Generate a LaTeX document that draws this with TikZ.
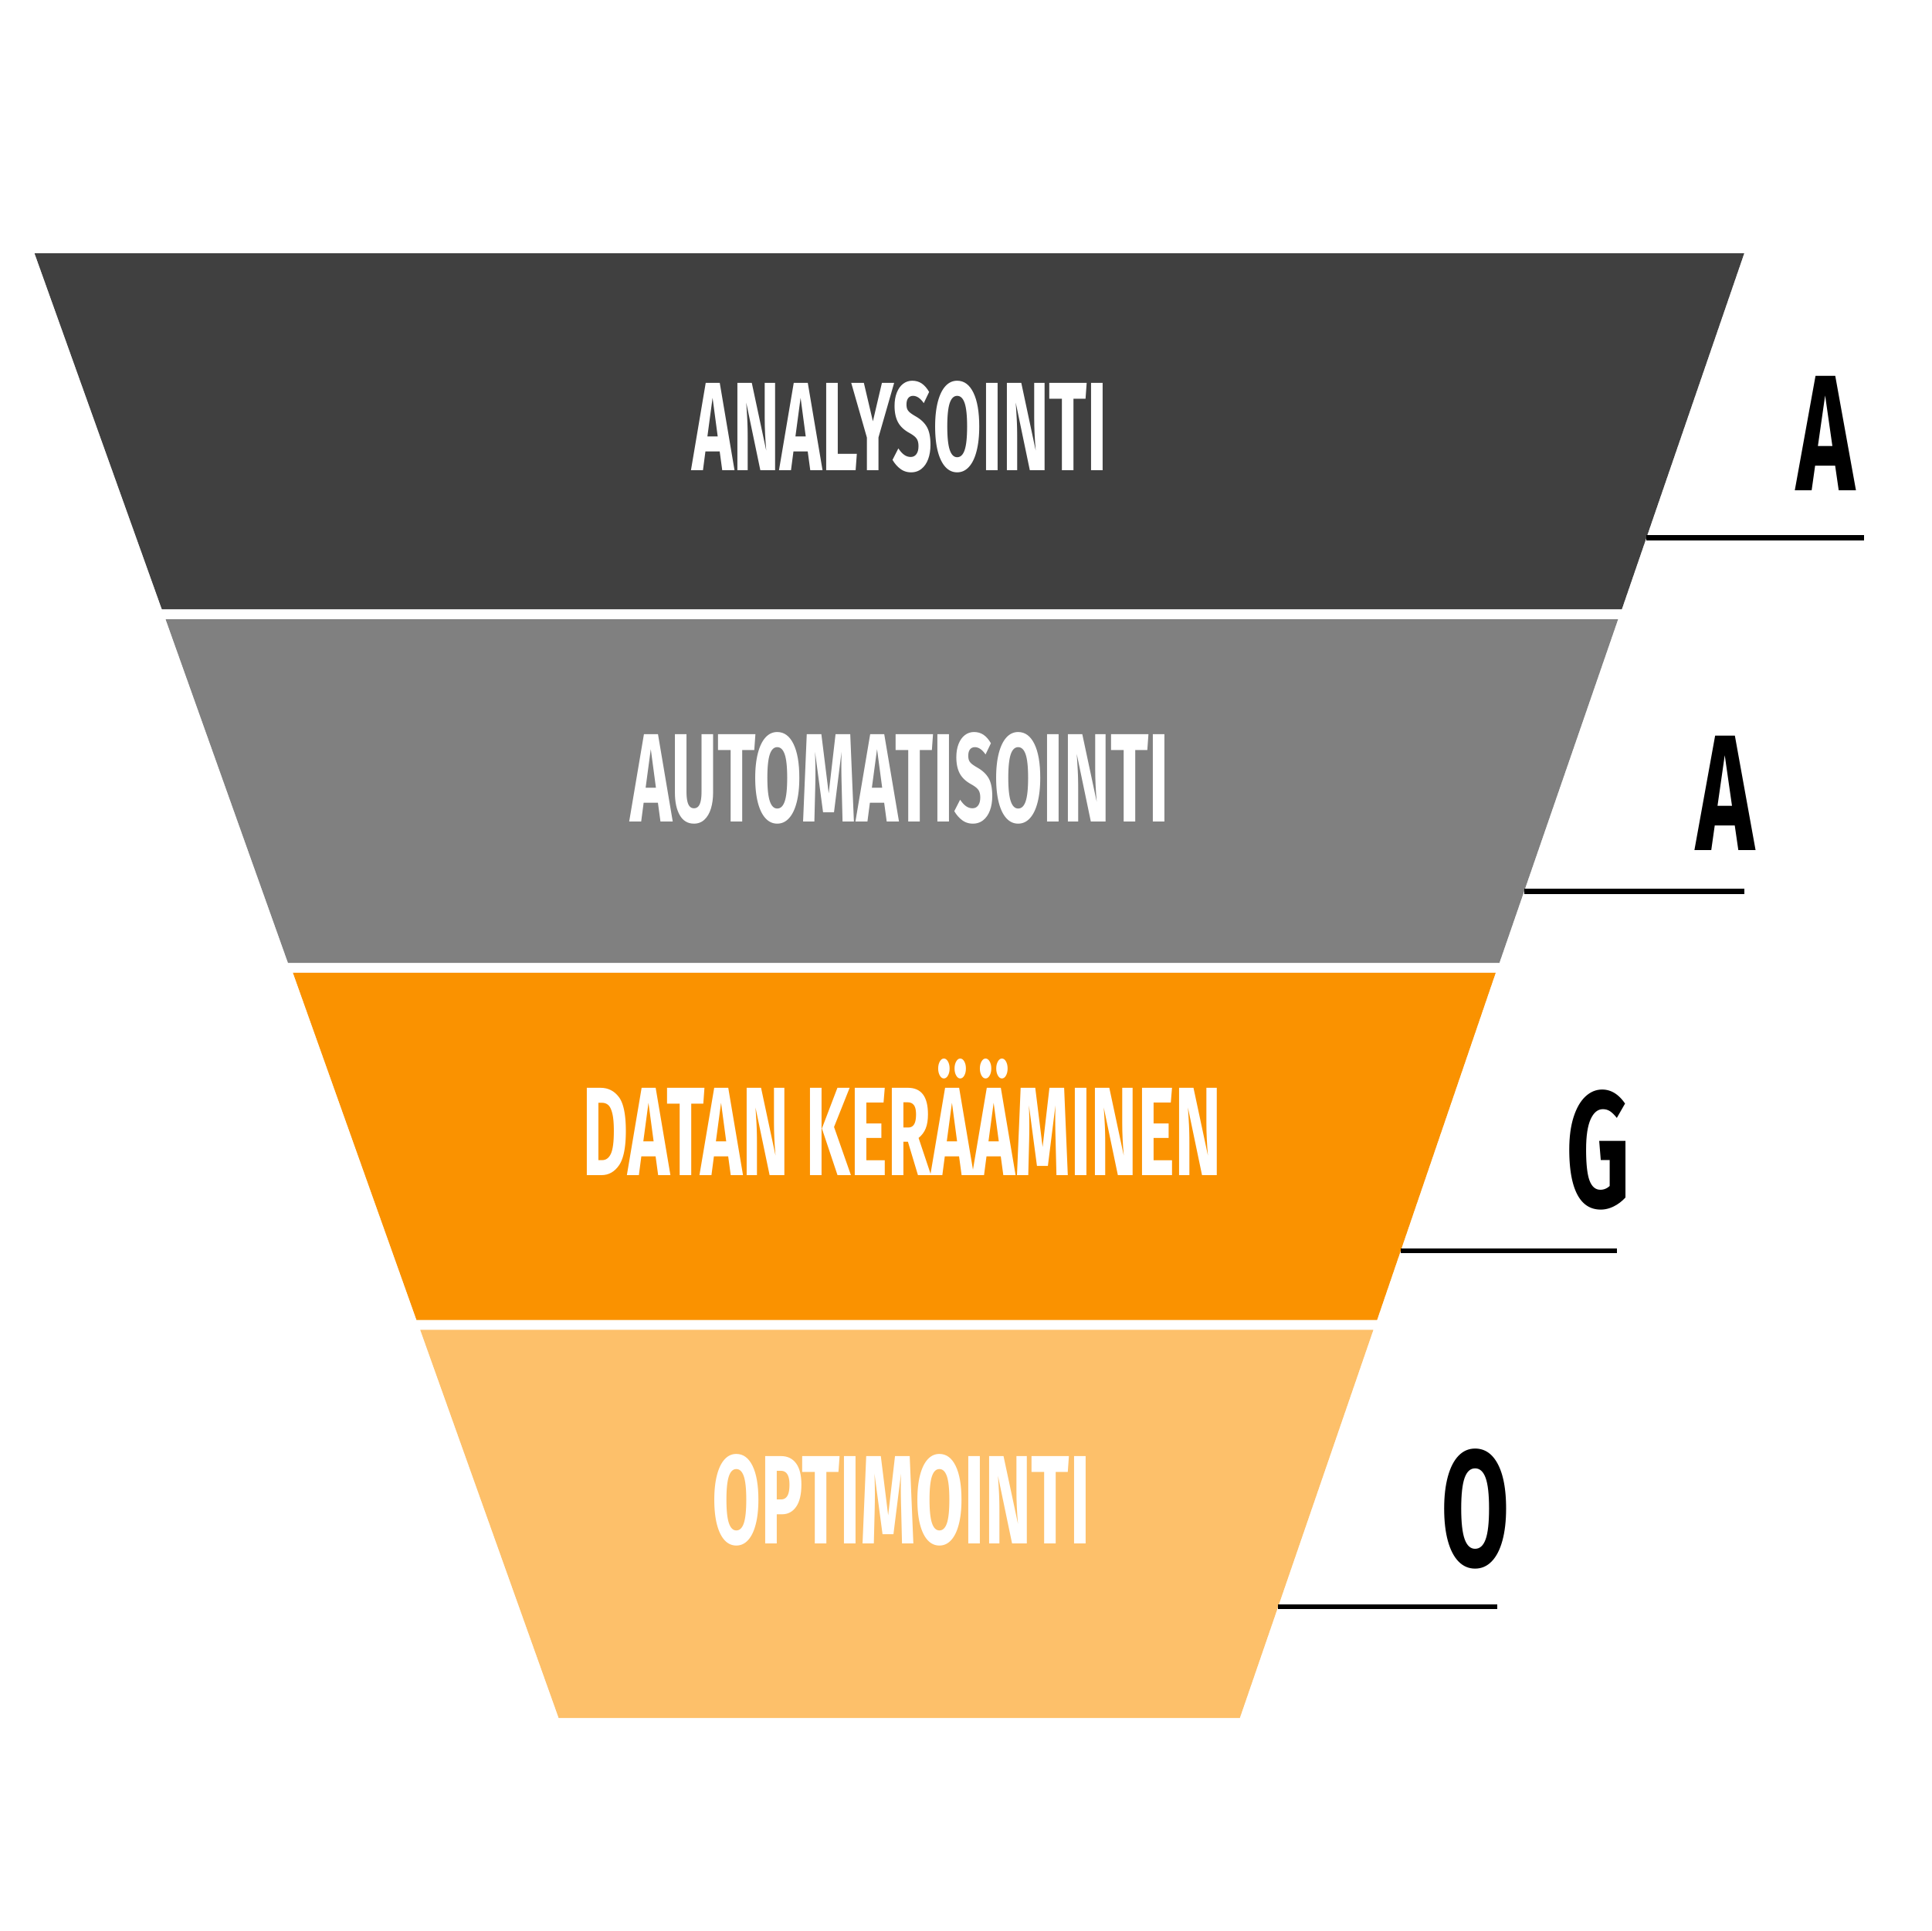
\documentclass[tikz,border=0pt]{standalone}
\usepackage{fontspec}
\setmainfont{Fira Sans}
\definecolor{c1}{HTML}{404040}
\definecolor{c2}{HTML}{808080}
\definecolor{c3}{HTML}{FA9200}
\definecolor{c4}{HTML}{FDC06A}
\begin{document}
\begin{tikzpicture}[x=0.01cm,y=-0.01cm,
  band/.style={text=white,font=\bfseries\fontsize{29}{30}\selectfont,anchor=base,inner sep=0},
  letter/.style={text=black,font=\bfseries\fontsize{38}{40}\selectfont,anchor=base,inner sep=0},
  tick/.style={line width=1.2pt}]
\useasboundingbox[fill=white] (0,0) rectangle (1563,1562);
\fill[c1] (28,205) -- (1411,205) -- (1312,493) -- (131,493) -- cycle;
\fill[c2] (134,501) -- (1309,501) -- (1213,779) -- (233,779) -- cycle;
\fill[c3] (237,787) -- (1210,787) -- (1114,1068) -- (337,1068) -- cycle;
\fill[c4] (340,1076) -- (1111,1076) -- (1003,1390) -- (452,1390) -- cycle;
\node[band] (t1) at (728,381) {\scalebox{0.56}[1]{ANALYSOINTI}};
\node[band] (t2) at (728,665) {\scalebox{0.56}[1]{AUTOMATISOINTI}};
\node[band] (t3) at (730,951) {\scalebox{0.56}[1]{DATAN KERÄÄMINEN}};
\node[band] (t4) at (729,1249) {\scalebox{0.56}[1]{OPTIMOINTI}};
\node[letter] (l1) at (1477,397) {\scalebox{0.6}[1]{A}};
\node[letter] (l2) at (1396,688) {\scalebox{0.6}[1]{A}};
\node[letter] (l3) at (1293,977) {\scalebox{0.6}[1]{G}};
\node[letter] (l4) at (1194,1267) {\scalebox{0.6}[1]{O}};
\coordinate (a1) at (1332,435); \coordinate (b1) at (1508,435);
\coordinate (a2) at (1233,721); \coordinate (b2) at (1411,721);
\coordinate (a3) at (1133,1012); \coordinate (b3) at (1308,1012);
\coordinate (a4) at (1034,1300); \coordinate (b4) at (1211,1300);
\draw[tick] (a1) -- (b1);
\draw[tick] (a2) -- (b2);
\draw[tick] (a3) -- (b3);
\draw[tick] (a4) -- (b4);
\end{tikzpicture}
\end{document}
